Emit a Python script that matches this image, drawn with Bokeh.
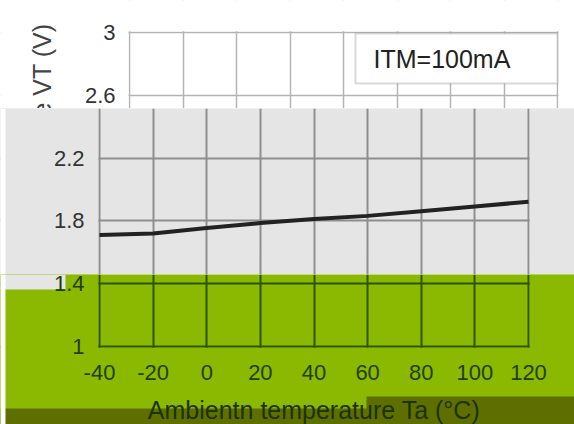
import math
from bokeh.plotting import figure
from bokeh.layouts import column
from bokeh.models import (FixedTicker, Range1d, Label, LabelSet, BoxAnnotation, Grid,
                          ColumnDataSource)
from bokeh.core.properties import value
from bokeh.embed import file_html
from bokeh.resources import INLINE

# ---- data ----
temps = [-40, -20, 0, 20, 40, 60, 80, 100, 120]
vt = [1.71, 1.72, 1.755, 1.786, 1.812, 1.832, 1.862, 1.892, 1.922]
x_ticks = [-40, -20, 0, 20, 40, 60, 80, 100, 120]
y_ticks = [1.0, 1.4, 1.8, 2.2, 2.6, 3.0]
x_title = "Ambientn temperature Ta (°C)"
y_title = "On-state voltage VT (V)"
note_text = "ITM=100mA"

FONT = "Liberation Sans"
W = 574
XMIN, XMAX = x_ticks[0], x_ticks[-1]
YMIN, YMAX = y_ticks[0], y_ticks[-1]

PXV = 157.0          # px per volt
PXX = 429 / 160.0    # px per degree (lower bands)
PXX_T = 428 / 160.0  # px per degree (shifted top band)
FRAME_L, FRAME_B = 99, 346   # lower bands: x=-40 / y=1 position
TOP_L, TOP_T = 129, 32       # top band: x=-40 / y=3 position

GRAY = "#e4e5e4"
GREEN = "#8bb800"
OLIVE = "#5e6f00"


def make_fig(height, x0, x1, y0, y1, bg):
    p = figure(width=W, height=height, output_backend="svg", toolbar_location=None,
               x_range=Range1d(x0, x1), y_range=Range1d(y0, y1),
               x_axis_location=None, y_axis_location=None, min_border=0,
               background_fill_color=bg, border_fill_color=bg,
               outline_line_color=None)
    for r in p.center:
        if isinstance(r, Grid):
            r.visible = False
    return p


def add_grid(p, color, width):
    p.add_layout(Grid(dimension=0, ticker=FixedTicker(ticks=x_ticks),
                      grid_line_color=color, grid_line_width=width))
    p.add_layout(Grid(dimension=1, ticker=FixedTicker(ticks=y_ticks),
                      grid_line_color=color, grid_line_width=width))


def cover(p, color, **kw):
    p.add_layout(BoxAnnotation(fill_color=color, fill_alpha=1.0, line_color=None, **kw))


def ytick_labels(p, color, offset):
    src = ColumnDataSource(data=dict(x=[XMIN] * len(y_ticks), y=y_ticks,
                                     t=[f"{v:g}" for v in y_ticks]))
    p.add_layout(LabelSet(x="x", y="y", text="t", source=src, x_offset=offset,
                          text_font=value(FONT), text_font_size="22px", text_color=color,
                          text_align="right", text_baseline="middle"))


# ---------------- top band (white, shifted right) ----------------
t_x0 = XMIN - TOP_L / PXX_T
t_x1 = XMAX + (W - 557) / PXX_T
t_y1 = YMAX + TOP_T / PXV
t_y0 = YMAX - (108 - TOP_T) / PXV
top = make_fig(108, t_x0, t_x1, t_y0, t_y1, "white")
add_grid(top, "#b4b4b4", 1.5)
cover(top, "white", bottom=YMAX + 1.2 / PXV)
cover(top, "white", right=XMIN - 1.0 / PXX_T)
cover(top, "white", left=XMAX + 1.0 / PXX_T)
top.add_layout(BoxAnnotation(left=XMIN + (355 - TOP_L) / PXX_T, right=XMAX,
                             top=YMAX - 1 / PXV, bottom=YMAX - 51 / PXV,
                             fill_color="white", fill_alpha=1.0,
                             line_color="#7d7d7d", line_width=2))
top.add_layout(Label(x=XMIN + (373 - TOP_L) / PXX_T, y=YMAX - 26 / PXV, text=note_text,
                     text_font=FONT, text_font_size="25px", text_color="#222222",
                     text_align="left", text_baseline="middle"))
ytick_labels(top, "#333333", -14)
top.add_layout(Label(x=XMIN - (TOP_L - 41) / PXX_T, y=YMAX + 9 / PXV, text=y_title,
                     angle=math.pi / 2, text_font=FONT, text_font_size="25px",
                     text_color="#444444", text_align="right", text_baseline="middle"))

# ---------------- middle band (gray) ----------------
l_x0 = XMIN - FRAME_L / PXX
l_x1 = XMAX + (W - 528) / PXX
m_y1 = t_y0
m_y0 = YMIN + (FRAME_B - 274) / PXV
mid = make_fig(166, l_x0, l_x1, m_y0, m_y1, GRAY)
add_grid(mid, "#8e8e8e", 2)
cover(mid, GRAY, right=XMIN - 1.2 / PXX)
cover(mid, GRAY, left=XMAX + 1.2 / PXX)
cover(mid, "white", right=XMIN - (FRAME_L - 5) / PXX)
ytick_labels(mid, "#333333", -15)
src = ColumnDataSource(data=dict(t=temps, v=vt))
mid.line("t", "v", source=src, line_color="#222222", line_width=4)

# ---------------- bottom band (green + olive) ----------------
b_y1 = m_y0
b_y0 = YMIN - (424 - FRAME_B) / PXV
bot = make_fig(150, l_x0, l_x1, b_y0, b_y1, GREEN)
add_grid(bot, "#2d5400", 2)
cover(bot, GREEN, right=XMIN - 1.2 / PXX)
cover(bot, GREEN, left=XMAX + 1.2 / PXX)
cover(bot, GREEN, top=YMIN - 1.2 / PXV)
cover(bot, GRAY, right=XMIN - (FRAME_L - 65) / PXX, bottom=YMIN + (FRAME_B - 289) / PXV)
cover(bot, OLIVE, top=YMIN - (408 - FRAME_B) / PXV)
cover(bot, OLIVE, top=YMIN - (396 - FRAME_B) / PXV, left=XMIN + (366 - FRAME_L) / PXX)
cover(bot, "white", right=XMIN - (FRAME_L - 5) / PXX)
ytick_labels(bot, "#223f00", -15)
xsrc = ColumnDataSource(data=dict(x=x_ticks, y=[YMIN] * len(x_ticks),
                                  t=[f"{v:g}" for v in x_ticks]))
bot.add_layout(LabelSet(x="x", y="y", text="t", source=xsrc, y_offset=-18,
                        text_font=value(FONT), text_font_size="22px", text_color="#223f00",
                        text_align="center", text_baseline="top"))
bot.add_layout(Label(x=(XMIN + XMAX) / 2, y=YMIN - (409 - FRAME_B) / PXV, text=x_title,
                     text_font=FONT, text_font_size="25px", text_color="#1c3300",
                     text_align="center", text_baseline="middle"))

layout = column(top, mid, bot, spacing=0)
open("out.html", "w").write(file_html(layout, INLINE))
